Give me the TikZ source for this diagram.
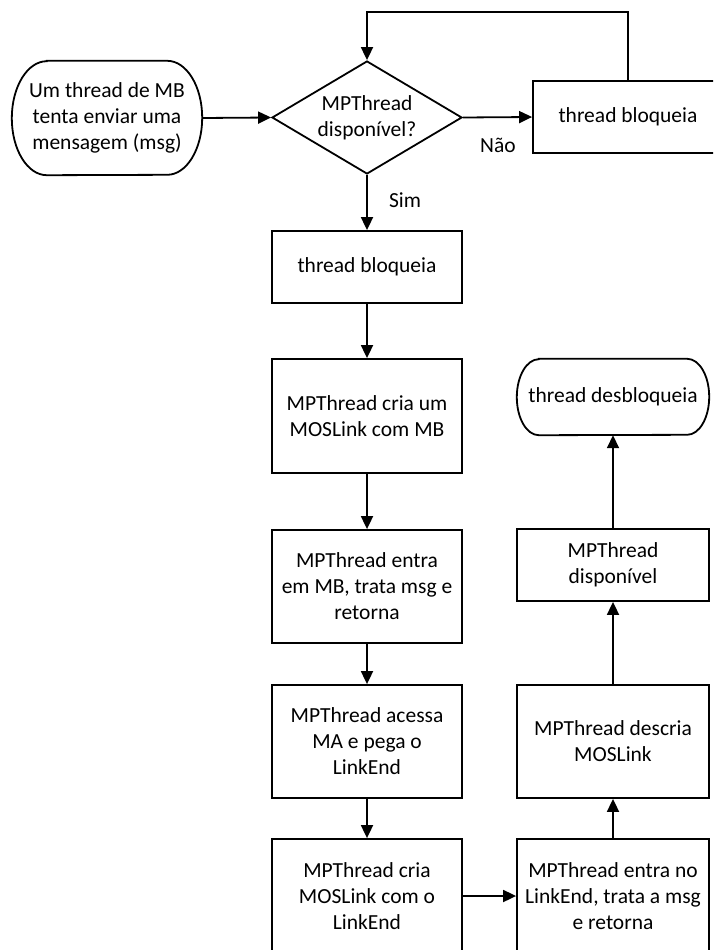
\documentclass[tikz,border=0pt]{standalone}
\usepackage{fontspec}
\setmainfont{Carlito}
\usetikzlibrary{arrows.meta,shapes.geometric}
\newcommand\flowfont{\fontsize{21.5}{26}\selectfont}
% outline of a terminator: straight top and bottom, elliptical ends
\newcommand\terminator[3]{%
  \draw[line] ([xshift=#2]#1.north west) -- ([xshift=-#2]#1.north east)
    arc[start angle=90,end angle=-90,x radius=#2,y radius=#3]
    -- ([xshift=#2]#1.south west)
    arc[start angle=270,end angle=90,x radius=#2,y radius=#3] -- cycle;}
\begin{document}
\begin{tikzpicture}[x=1pt,y=-1pt,
  line/.style={line width=1.8pt,line join=miter,black},
  flow/.style={line,-{Triangle[length=13pt,width=12pt]}},
  txt/.style={inner sep=0pt,align=center,font=\flowfont},
  stepbox/.style={txt,draw,line,rectangle,minimum width=190pt},
  termnode/.style={txt,rectangle,minimum width=190pt},
  decision/.style={txt,draw,line,diamond,aspect=1.68,
    minimum width=190pt,minimum height=113pt},
  lbl/.style={inner sep=0pt,font=\flowfont}]
\clip (0,0) rectangle (713,950);

% left column
\node[termnode,minimum height=114pt] (start) at (107,118)
  {Um thread de MB\\tenta enviar uma\\mensagem (msg)};
\terminator{start}{35pt}{57pt}
\node[decision] (dec) at (367,117.5) {MPThread\\disponível?};
\node[stepbox,minimum height=72pt] (wait) at (628,117) {thread bloqueia};
\node[stepbox,minimum height=72pt] (block) at (367,267) {thread bloqueia};
\node[stepbox,minimum height=114pt] (mklink) at (367,416)
  {MPThread cria um\\MOSLink com MB};
\node[stepbox,minimum height=113pt] (enter) at (367,586.5)
  {MPThread entra\\em MB, trata msg e\\retorna};
\node[stepbox,minimum height=113pt] (access) at (367,741.5)
  {MPThread acessa\\MA e pega o\\LinkEnd};
\node[stepbox,minimum height=114pt] (mkend) at (367,896)
  {MPThread cria\\MOSLink com o\\LinkEnd};

% right column
\node[stepbox,minimum width=192pt,minimum height=114pt] (enterend) at (613,896)
  {MPThread entra no\\LinkEnd, trata a msg\\e retorna};
\node[stepbox,minimum width=192pt,minimum height=113pt] (unlink) at (613,741.5)
  {MPThread descria\\MOSLink};
\node[stepbox,minimum width=192pt,minimum height=72pt] (free) at (613,565)
  {MPThread\\disponível};
\node[termnode,minimum width=192pt,minimum height=76pt] (done) at (613,397)
  {thread desbloqueia};
\terminator{done}{22pt}{38pt}

% loop back to the decision
\coordinate (loop) at (367,12);
\coordinate (lblno) at (498,145);
\coordinate (lblyes) at (405,200);

% connectors
\draw[flow] (start.east) -- (dec.west);
\draw[flow] (dec.east) -- (wait.west);
\draw[flow] (wait.north) |- (loop) -- (dec.north);
\draw[flow] (dec.south) -- (block.north);
\draw[flow] (block.south) -- (mklink.north);
\draw[flow] (mklink.south) -- (enter.north);
\draw[flow] (enter.south) -- (access.north);
\draw[flow] (access.south) -- (mkend.north);
\draw[flow] (mkend.east) -- (enterend.west);
\draw[flow] (enterend.north) -- (unlink.south);
\draw[flow] (unlink.north) -- (free.south);
\draw[flow] (free.north) -- (done.south);

% branch labels
\node[lbl] (no) at (lblno) {Não};
\node[lbl] (yes) at (lblyes) {Sim};
\end{tikzpicture}
\end{document}
